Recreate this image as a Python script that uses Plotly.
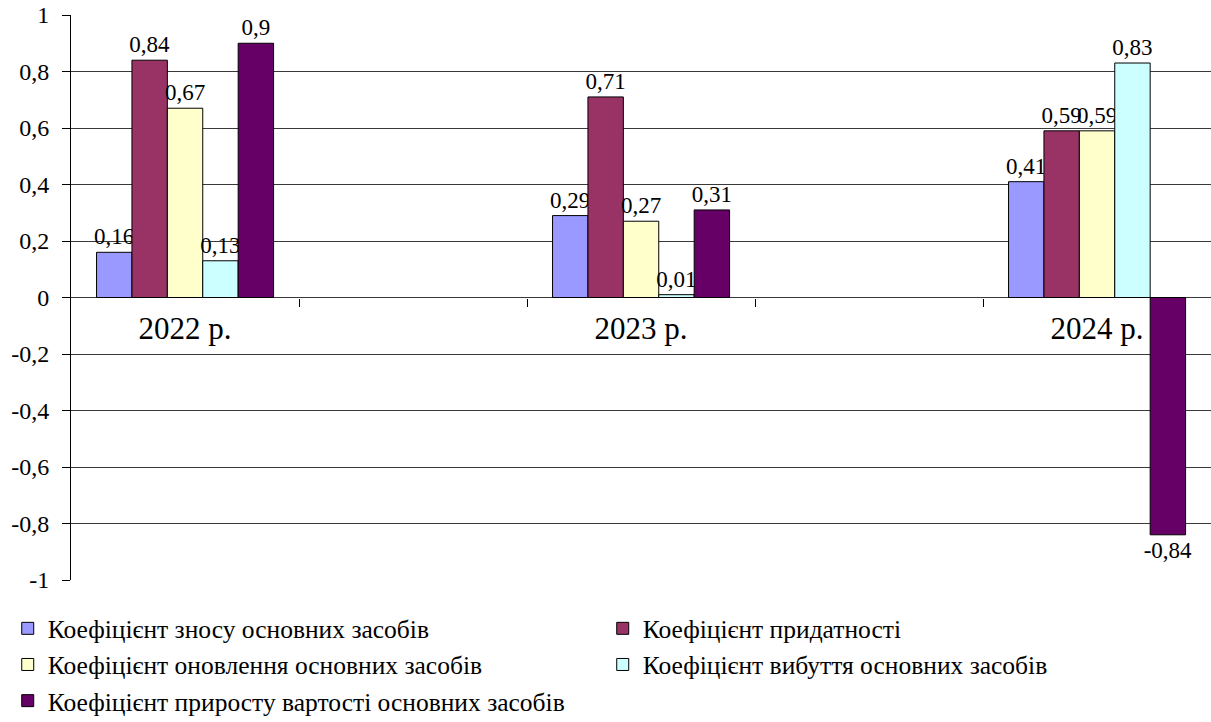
import plotly.graph_objects as go

years = ["2022 р.", "2023 р.", "2024 р."]
x_pos = [0, 2, 4]
series_names = [
    "Коефіцієнт зносу основних засобів",
    "Коефіцієнт придатності",
    "Коефіцієнт оновлення основних засобів",
    "Коефіцієнт вибуття основних засобів",
    "Коефіцієнт приросту вартості основних засобів",
]
znos = [0.16, 0.29, 0.41]
prydatnist = [0.84, 0.71, 0.59]
onovlennia = [0.67, 0.27, 0.59]
vybuttia = [0.13, 0.01, 0.83]
pryrist = [0.90, 0.31, -0.84]
series_values = [znos, prydatnist, onovlennia, vybuttia, pryrist]
colors = ["#9999FF", "#993366", "#FFFFCC", "#CCFFFF", "#660066"]

y_ticks = [1, 0.8, 0.6, 0.4, 0.2, 0, -0.2, -0.4, -0.6, -0.8, -1]
y_ticktext = ["1", "0,8", "0,6", "0,4", "0,2", "0", "-0,2", "-0,4", "-0,6", "-0,8", "-1"]

FONT = "Liberation Serif"

def fmt(v):
    return ("%g" % v).replace(".", ",")

fig = go.Figure()
bar_w = 0.1553
start = -0.388
for i, (name, vals, col) in enumerate(zip(series_names, series_values, colors)):
    fig.add_trace(go.Bar(
        x=x_pos, y=vals, name=name,
        width=bar_w, offset=start + i * bar_w,
        marker=dict(color=col, line=dict(color="black", width=1)),
        text=[fmt(v) for v in vals],
        textposition="outside",
        constraintext="none",
        cliponaxis=False,
        textfont=dict(family=FONT, size=23, color="black"),
    ))

fig.update_layout(
    width=1211, height=722,
    margin=dict(l=71, r=0, t=15, b=142, autoexpand=False),
    paper_bgcolor="white", plot_bgcolor="white",
    barmode="overlay",
    font=dict(family=FONT, size=23, color="black"),
    showlegend=True,
    legend=dict(
        orientation="h", x=-0.0555, xanchor="left", y=-0.0447, yanchor="top",
        entrywidth=550, entrywidthmode="pixels",
        font=dict(family=FONT, size=25.5, color="black"),
        traceorder="normal",
    ),
    xaxis=dict(
        range=[-0.5, 4.5],
        anchor="free", position=0.5,
        tickmode="array", tickvals=x_pos, ticktext=years,
        ticks="", showgrid=False, zeroline=False, showline=False,
        ticklabelstandoff=9,
        tickfont=dict(family=FONT, size=31, color="black"),
        minor=dict(tickvals=[0.5, 1.5, 2.5, 3.5], ticks="outside",
                   ticklen=8, tickcolor="black", tickwidth=1, showgrid=False),
    ),
    yaxis=dict(
        range=[-1, 1],
        tickmode="array", tickvals=y_ticks, ticktext=y_ticktext,
        ticks="outside", ticklen=8, tickcolor="black",
        ticklabelstandoff=8,
        showgrid=True, gridcolor="#3a3a3a", gridwidth=1,
        zeroline=True, zerolinecolor="#3a3a3a", zerolinewidth=1,
        showline=True, linecolor="black", linewidth=1,
        tickfont=dict(family=FONT, size=24, color="black"),
    ),
)

fig.write_html("out.html")
